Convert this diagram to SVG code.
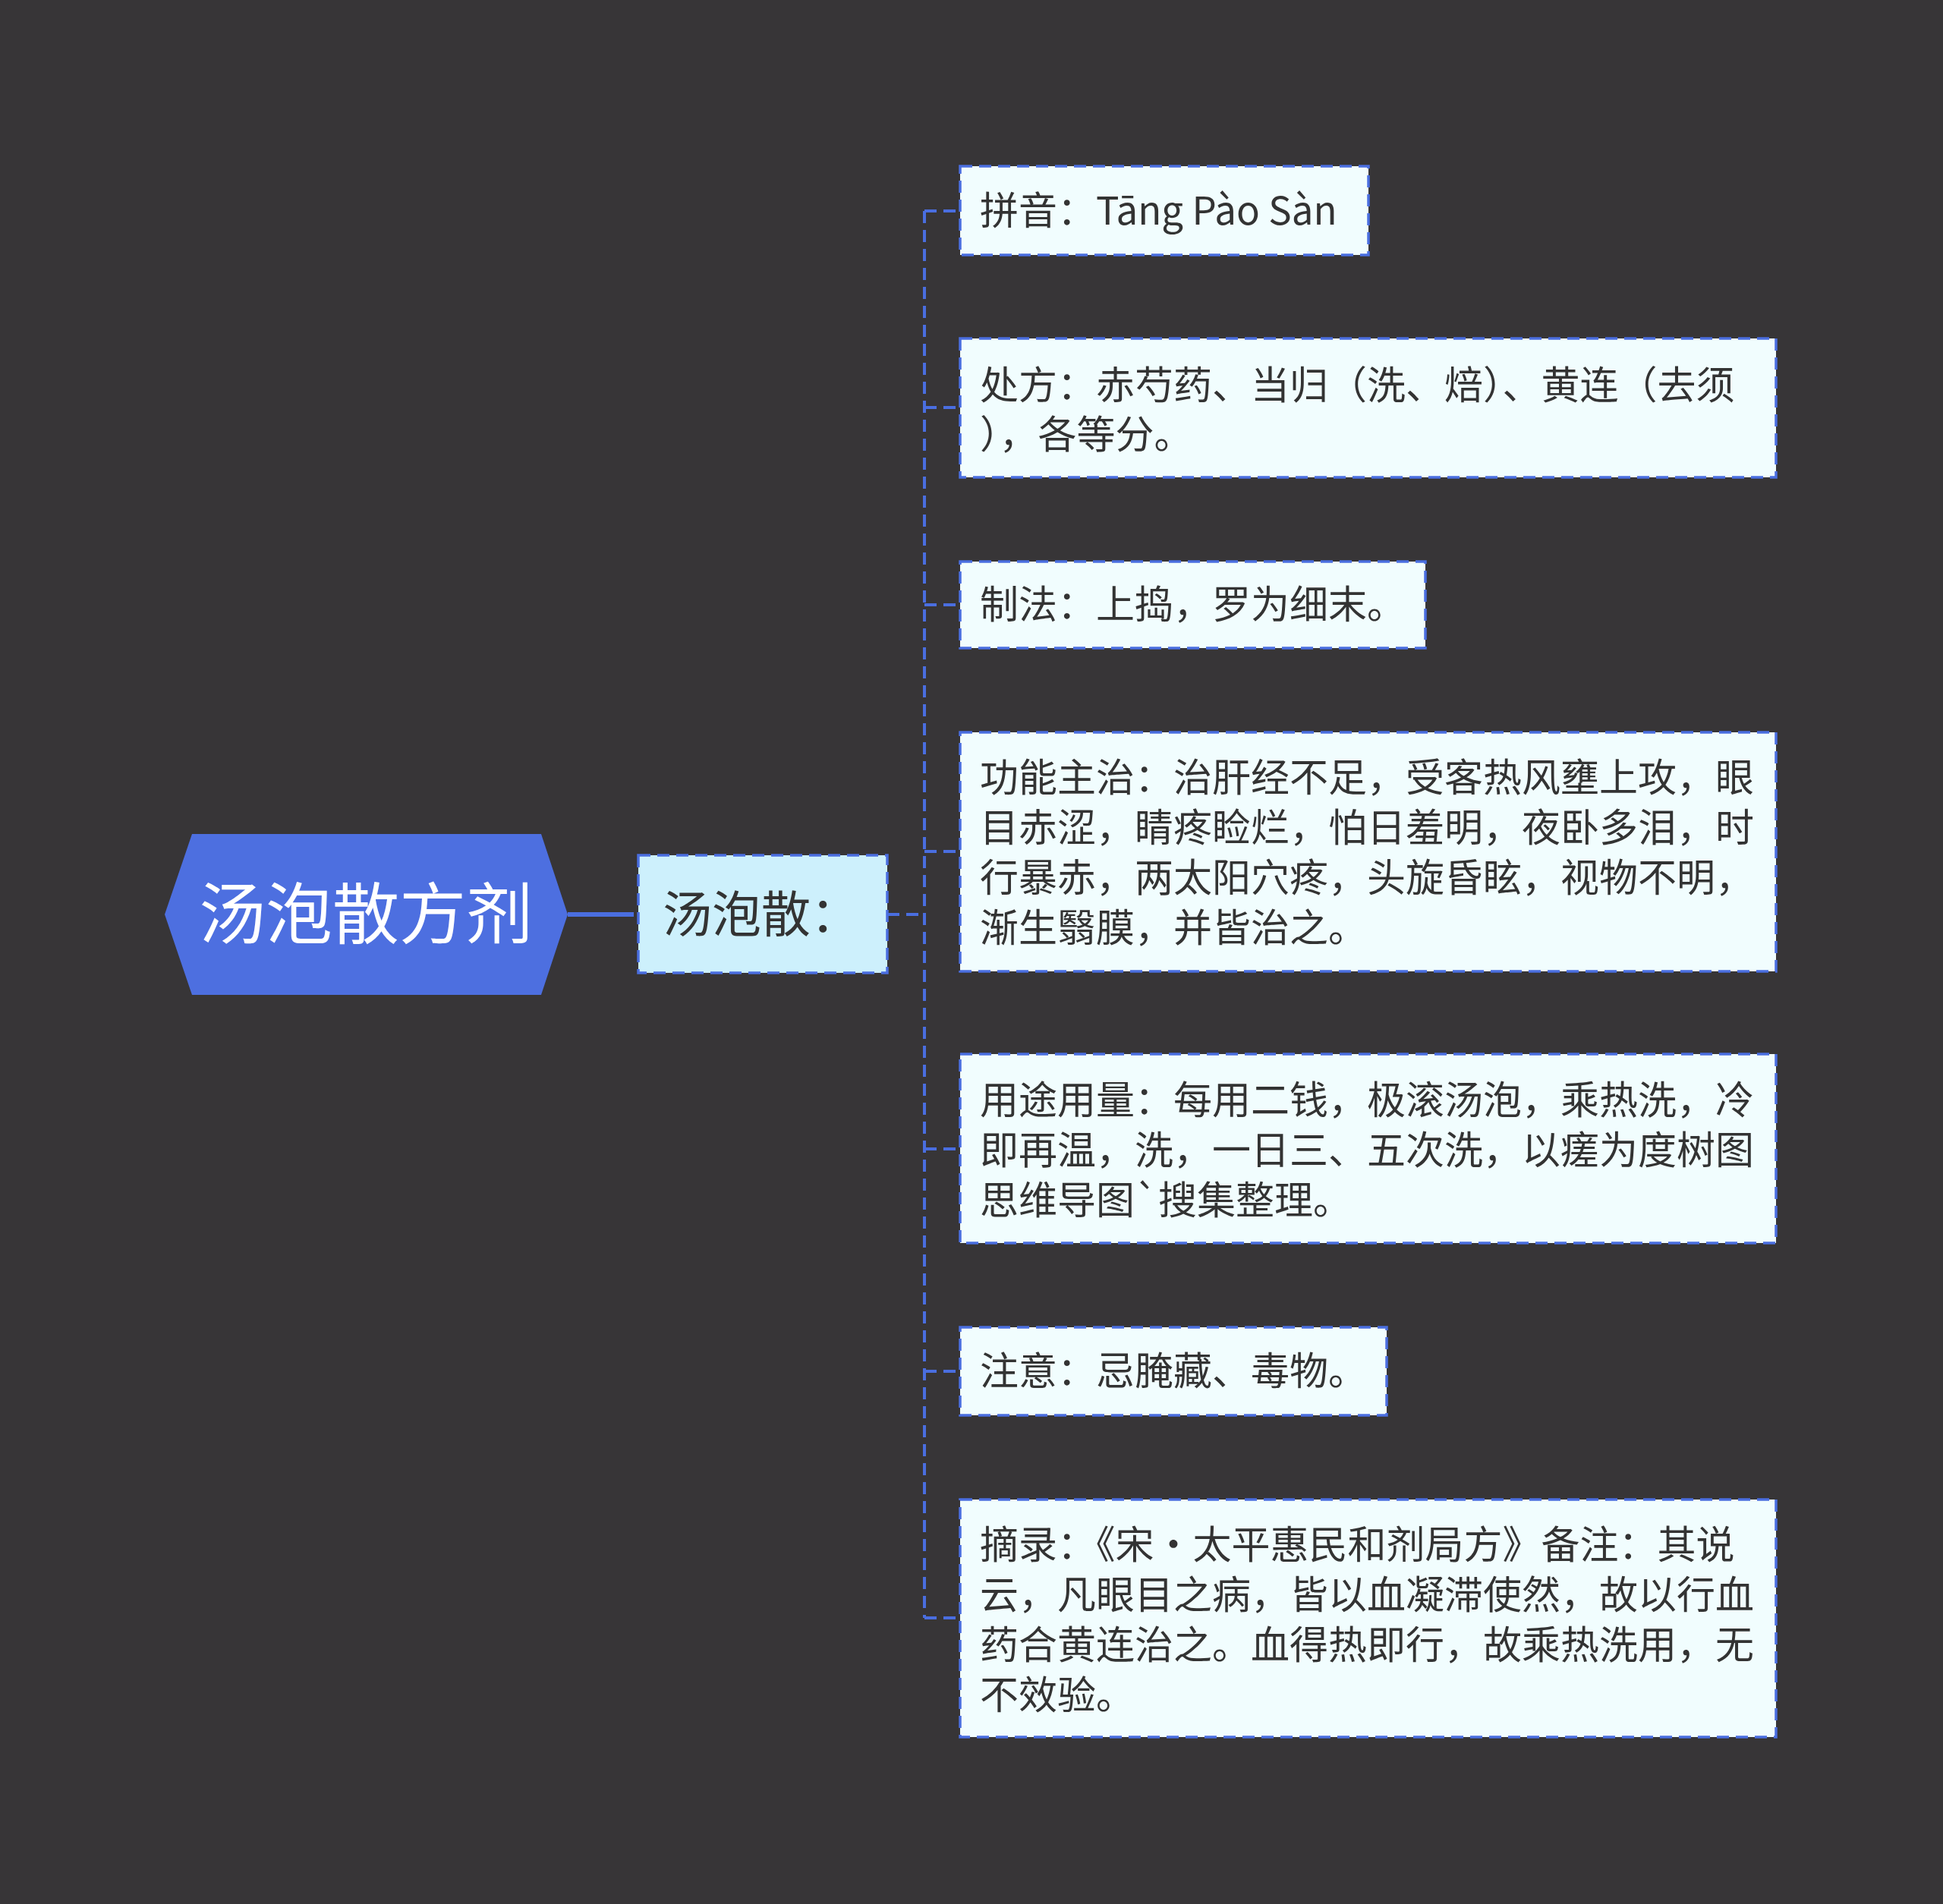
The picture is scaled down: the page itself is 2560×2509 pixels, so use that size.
<svg xmlns="http://www.w3.org/2000/svg" width="2560" height="2509" viewBox="0 0 2560 2509">
<style>
.bg{fill:#373537}
.leaf rect{fill:#f1fdfe;stroke:#4a6ee0;stroke-width:3.5;stroke-dasharray:16 9}
.leaf text,.sub text{font-family:"Noto Sans CJK SC","Microsoft YaHei",sans-serif;fill:#333333}
.leaf text{font-size:51px}
.conn{fill:none;stroke:#4a6ee0;stroke-width:4;stroke-dasharray:16 9}
</style>
<rect class="bg" x="0" y="0" width="2560" height="2509"/>
<g id="connectors">
<line x1="748" y1="1205" x2="835" y2="1205" stroke="#4a6ee0" stroke-width="6"/>
<path class="conn" d="M1169 1205H1218M1218 278V2132M1218 278H1265M1218 537H1265M1218 797H1265M1218 1122H1265M1218 1514H1265M1218 1807H1265M1218 2132H1265"/>
</g>
<g id="root">
<polygon points="217,1205 253,1099 713,1099 748,1205 713,1311 253,1311" fill="#4d6fe0"/>
<text x="482" y="1236" text-anchor="middle" font-family="Noto Sans CJK SC,sans-serif" font-size="88" fill="#ffffff">汤泡散方剂</text>
</g>
<g id="sub" class="sub">
<rect x="841" y="1127" width="328" height="155" fill="#cdf0fc" stroke="#4a6ee0" stroke-width="3.5" stroke-dasharray="16 9"/>
<text x="873" y="1228" font-size="65">汤泡散：</text>
</g>
<g id="n1" class="leaf">
<rect x="1265" y="219" width="538" height="117"/>
<text x="1291" y="296">拼音：Tāng Pào Sàn</text>
</g>
<g id="n2" class="leaf">
<rect x="1265" y="446" width="1075" height="183"/>
<text x="1291" y="526">处方：赤芍药、当归（洗、焙）、黄连（去须<tspan x="1291" dy="65">），各等分。</tspan></text>
</g>
<g id="n3" class="leaf">
<rect x="1265" y="740" width="613" height="114"/>
<text x="1291" y="815">制法：上捣，罗为细末。</text>
</g>
<g id="n4" class="leaf">
<rect x="1265" y="965" width="1075" height="315"/>
<text x="1291" y="1043">功能主治：治肝经不足，受客热风壅上攻，眼<tspan x="1291" dy="66">目赤涩，睛疼睑烂，怕日羞明，夜卧多泪，时</tspan><tspan x="1291" dy="66">行暴赤，两太阳穴疼，头旋昏眩，视物不明，</tspan><tspan x="1291" dy="66">渐生翳膜，并皆治之。</tspan></text>
</g>
<g id="n5" class="leaf">
<rect x="1265" y="1389" width="1075" height="249"/>
<text x="1291" y="1468">用途用量：每用二钱，极滚汤泡，乘热洗，冷<tspan x="1291" dy="66">即再温，洗，一日三、五次洗，以瘥为度树图</tspan><tspan x="1291" dy="66">思维导图`搜集整理。</tspan></text>
</g>
<g id="n6" class="leaf">
<rect x="1265" y="1749" width="562" height="116"/>
<text x="1291" y="1825">注意：忌腌藏、毒物。</text>
</g>
<g id="n7" class="leaf">
<rect x="1265" y="1976" width="1075" height="313"/>
<text x="1291" y="2054">摘录：《宋·太平惠民和剂局方》备注：其说<tspan x="1291" dy="66">云，凡眼目之病，皆以血凝滞使然，故以行血</tspan><tspan x="1291" dy="66">药合黄连治之。血得热即行，故乘热洗用，无</tspan><tspan x="1291" dy="66">不效验。</tspan></text>
</g>
</svg>
